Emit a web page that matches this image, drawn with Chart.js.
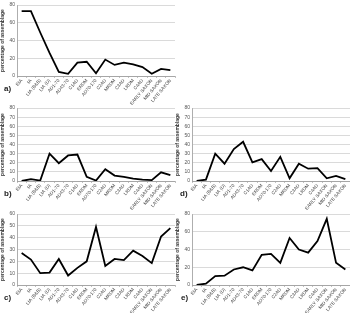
<!DOCTYPE html>
<html>
<head>
<meta charset="utf-8">
<script src="https://cdn.jsdelivr.net/npm/chart.js@4.4.0/dist/chart.umd.min.js"></script>
<style>
  body { margin: 0; background: #fff; width: 350px; height: 313px; position: relative; overflow: hidden; }
  canvas { position: absolute; }
  .tag { position: absolute; font: bold 8px "Liberation Sans", Arial, sans-serif; color: #222; }
</style>
</head>
<body>
<canvas id="chartA" width="178" height="124" style="left:0;top:0"></canvas>
<canvas id="chartB" width="178" height="124" style="left:0;top:103px"></canvas>
<canvas id="chartD" width="176" height="124" style="left:175px;top:103px"></canvas>
<canvas id="chartC" width="178" height="124" style="left:0;top:209px"></canvas>
<canvas id="chartE" width="176" height="124" style="left:175px;top:209px"></canvas>
<div class="tag" style="left:4px;top:84px">a)</div>
<div class="tag" style="left:4px;top:189px">b)</div>
<div class="tag" style="left:180px;top:189px">d)</div>
<div class="tag" style="left:4px;top:293px">c)</div>
<div class="tag" style="left:181px;top:293px">e)</div>
<script>
const periods = ['EIA', 'IA', 'LIA (B&B)', 'LIA (D)', 'AD1-70', 'AD43-70', 'C1AD', 'ERDM', 'AD70-170',
  'C2AD', 'MRDM', 'C3AD', 'LRDM', 'C4AD', 'EARLY SAXON', 'MID SAXON', 'LATE SAXON'];

const valuesA = [73, 73, 49, 26, 4.5, 2.5, 15, 16, 3, 18.5, 12.5, 15, 13, 10, 2.5, 8, 6.5];
const valuesB = [0, 2, 0.5, 30, 19.5, 28, 29, 4.5, 0.5, 13, 6, 4.5, 2.5, 1.5, 1, 9.5, 6.5];
const valuesD = [0, 1.5, 30, 19, 35, 43, 20.5, 24, 11, 26.5, 3, 19, 13.5, 14, 3, 5.5, 2];
const valuesC = [27, 21.5, 10, 10.5, 22, 8, 14.5, 20, 49, 16, 22, 21, 29, 24.5, 18.5, 41, 48];
const valuesE = [0, 1.5, 10, 10.5, 17.5, 20, 16.5, 34, 35, 25, 53, 40, 36.5, 49.5, 74.5, 25, 17.5];

const yTitle = 'percentage of assemblage';

// x axis box is fixed so the plot area lands where the reference has it.
// chart.js clips tick labels to the scale box, so the box is made tall
// enough to hold the rotated labels
const CANVAS_H = 124;

const makeChart = (id, values, yMax, areaHeight, padRight) => {
  const ctx = document.getElementById(id).getContext('2d');
  return new Chart(ctx, {
    type: 'line',
    data: {
      labels: periods,
      datasets: [{
        data: values,
        borderColor: '#000',
        borderWidth: 1.8,
        pointRadius: 0,
        tension: 0,
        fill: false,
      }],
    },
    options: {
      responsive: false,
      animation: false,
      plugins: { legend: { display: false }, tooltip: { enabled: false } },
      layout: { padding: { top: 2, right: padRight, left: 0, bottom: 0 } },
      scales: {
        y: {
          min: 0,
          max: yMax,
          ticks: {
            stepSize: 10,
            color: '#555',
            padding: 2,
            font: { size: 5, family: 'Liberation Sans' },
          },
          grid: { color: '#d0d0d0', lineWidth: 0.8, tickLength: 0 },
          border: { color: '#999', width: 0.8 },
          title: {
            display: true,
            text: yTitle,
            color: '#333',
            padding: 0,
            font: { size: 5, weight: 'bold', family: 'Liberation Sans' },
          },
          afterFit: (scale) => { scale.width = 17; },
        },
        x: {
          offset: true,
          ticks: {
            minRotation: 50,
            maxRotation: 50,
            autoSkip: false,
            color: '#444',
            padding: 0,
            font: { size: 4.6, family: 'Liberation Sans' },
          },
          grid: { offset: true, drawOnChartArea: false, tickLength: 2, color: '#999', lineWidth: 0.6 },
          border: { color: '#999', width: 0.8 },
          afterFit: (scale) => { scale.height = CANVAS_H - 2 - areaHeight; },
        },
      },
    },
  });
};

makeChart('chartA', valuesA, 80, 74, 3);
makeChart('chartB', valuesB, 80, 76, 3);
makeChart('chartD', valuesD, 80, 76, 1);
makeChart('chartC', valuesC, 60, 74, 3);
makeChart('chartE', valuesE, 80, 74, 1);
</script>
</body>
</html>
